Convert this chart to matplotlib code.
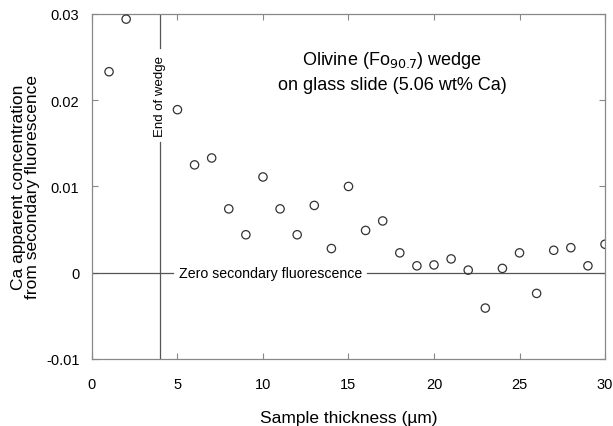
import matplotlib
matplotlib.use("Agg")
import matplotlib.pyplot as plt

# sample thickness (um) and Ca apparent concentration
thickness = [1, 2, 5, 6, 7, 8, 9, 10, 11, 12, 13, 14, 15, 16, 17, 18, 19, 20,
             21, 22, 23, 24, 25, 26, 27, 28, 29, 30]
ca_conc = [0.0233, 0.0294, 0.0189, 0.0125, 0.0133, 0.0074, 0.0044, 0.0111,
           0.0074, 0.0044, 0.0078, 0.0028, 0.0100, 0.0049, 0.0060, 0.0023,
           0.0008, 0.0009, 0.0016, 0.0003, -0.0041, 0.0005, 0.0023, -0.0024,
           0.0026, 0.0029, 0.0008, 0.0033]

x_ticks = [0, 5, 10, 15, 20, 25, 30]
y_ticks = [-0.01, 0, 0.01, 0.02, 0.03]
y_labels = ["-0.01", "0", "0.01", "0.02", "0.03"]
wedge_end = 4

plt.rcParams['font.family'] = ['Liberation Sans', 'DejaVu Sans']

fig = plt.figure(figsize=(6.13, 4.27), dpi=100)
ax = fig.add_axes([0.150, 0.157, 0.837, 0.808])

line_c = "#555555"
# vertical line broken around its label
ax.plot([wedge_end, wedge_end], [-0.01, 0.0152], color=line_c, lw=0.9)
ax.plot([wedge_end, wedge_end], [0.0260, 0.03], color=line_c, lw=0.9)
ax.text(wedge_end, 0.0206, "End of wedge", rotation=90, ha="center", va="center", fontsize=9.5)

# zero line broken around its label
ax.plot([0, 4.75], [0, 0], color=line_c, lw=0.9)
ax.plot([16.1, 30], [0, 0], color=line_c, lw=0.9)
ax.text(10.45, 0, "Zero secondary fluorescence", ha="center", va="center", fontsize=10.2)

ax.scatter(thickness, ca_conc, s=36, facecolors="none", edgecolors="#333333", linewidths=0.9, zorder=3)

ax.text(17.55, 0.0247, "Olivine (Fo$_{90.7}$) wedge", ha="center", va="center", fontsize=13)
ax.text(17.55, 0.0218, "on glass slide (5.06 wt% Ca)", ha="center", va="center", fontsize=13)

ax.set_xlim(0, 30)
ax.set_ylim(-0.01, 0.03)
ax.set_xticks(x_ticks)
ax.set_yticks(y_ticks)
ax.set_yticklabels(y_labels)
ax.tick_params(direction="in", length=4, color="#888888", labelsize=10.5, top=True, right=True)
ax.tick_params(axis="x", pad=13)
ax.tick_params(axis="y", pad=9)
for s in ax.spines.values():
    s.set_color("#888888")
    s.set_linewidth(0.9)

ax.set_xlabel("Sample thickness (\u00b5m)", fontsize=12.5, labelpad=14)
ax.set_ylabel("Ca apparent concentration\nfrom secondary fluorescence", fontsize=12.5, labelpad=4, linespacing=0.95)

fig.savefig("out.png", dpi=100)
